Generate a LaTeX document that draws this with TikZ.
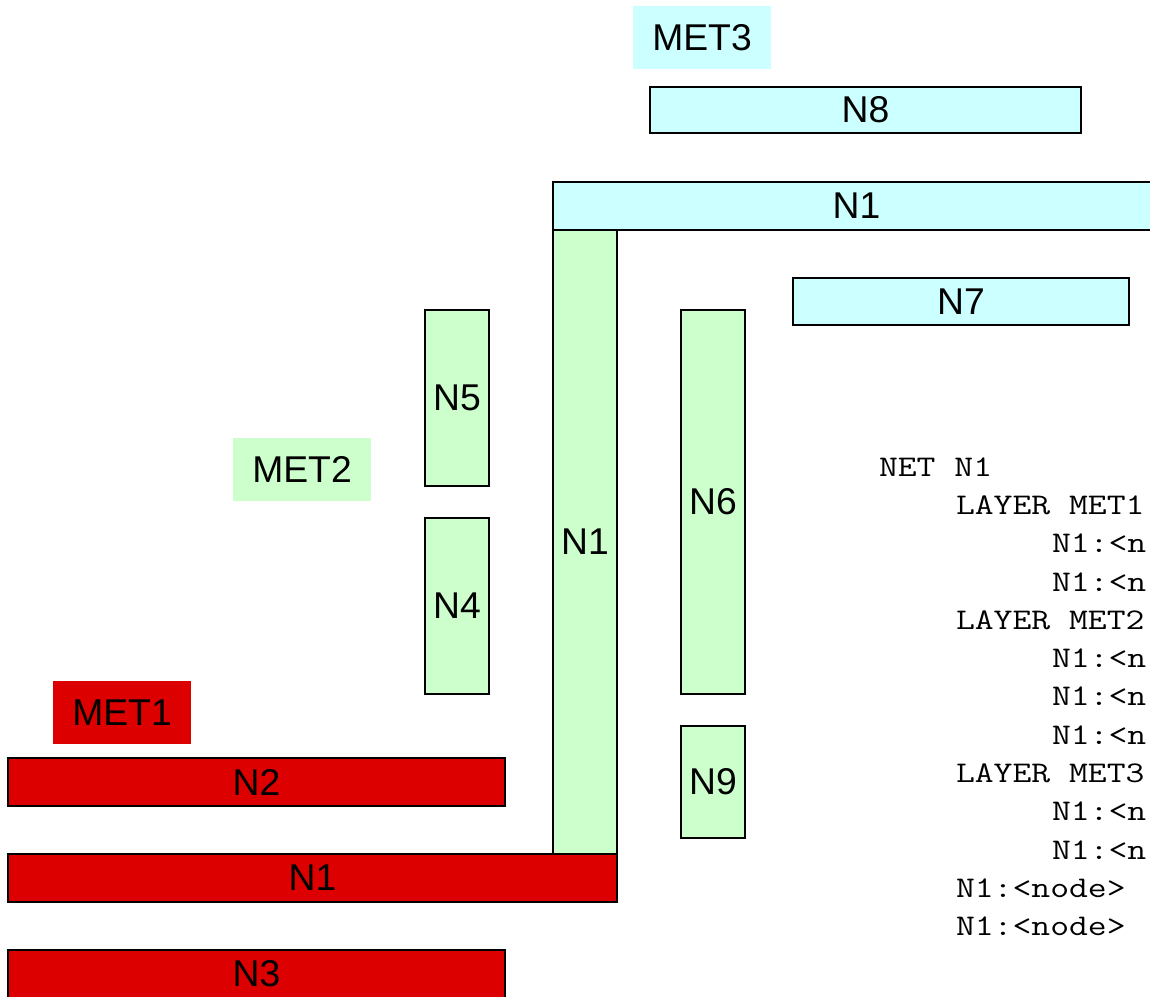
\documentclass[tikz,border=0pt]{standalone}
\usepackage{fontspec}
\setmainfont{Liberation Sans}
\definecolor{metA}{HTML}{DD0000}
\definecolor{metB}{HTML}{CCFFCC}
\definecolor{metC}{HTML}{CCFFFF}
\newcommand\wbox[7]{\node[#2, minimum width={#5-#3}, minimum height={#6-#4}] (#1) at ({(#3+#5)/2},{(#4+#6)/2}) {#7};}
\newcommand\mline[4]{\node[mono] (#1) at (#2,{476+#3*38.33}) {\scalebox{1.22}[1]{#4}};}
\tikzset{
  wire/.style={draw=black, line width=2pt, rectangle, inner sep=0pt, outer sep=0pt,
    font=\fontsize{37.3}{40}\selectfont},
  lbl/.style={rectangle, inner sep=0pt, outer sep=0pt, font=\fontsize{37.3}{40}\selectfont},
  mono/.style={anchor=base west, inner sep=0pt, outer sep=0pt, font=\fontsize{30}{34}\selectfont\ttfamily}
}
\begin{document}
\begin{tikzpicture}[x=1pt,y=-1pt]
\useasboundingbox (0,0) rectangle (1150,996);
\fill[white] (0,0) rectangle (1150,996);
\clip (0,0) rectangle (1150,996);
% labels
\wbox{met3}{lbl, fill=metC}{633}{6}{771}{69}{MET3}
\wbox{met2}{lbl, fill=metB}{233}{438}{371}{501}{MET2}
\wbox{met1}{lbl, fill=metA}{53}{681}{191}{744}{MET1}
% MET3 wires
\wbox{n8}{wire, fill=metC}{650}{87}{1081}{133}{N8}
\wbox{n1c}{wire, fill=metC}{553}{182}{1160}{230}{N1}
\wbox{n7}{wire, fill=metC}{793}{278}{1129}{325}{N7}
% MET2 wires
\wbox{n1g}{wire, fill=metB}{553}{230}{617}{854}{N1}
\wbox{n5}{wire, fill=metB}{425}{310}{489}{486}{N5}
\wbox{n4}{wire, fill=metB}{425}{518}{489}{694}{N4}
\wbox{n6}{wire, fill=metB}{681}{310}{745}{694}{N6}
\wbox{n9}{wire, fill=metB}{681}{726}{745}{838}{N9}
% MET1 wires
\wbox{n2}{wire, fill=metA}{8}{758}{505}{806}{N2}
\wbox{n1r}{wire, fill=metA}{8}{854}{617}{902}{N1}
\wbox{n3}{wire, fill=metA}{8}{950}{505}{998}{N3}
% netlist text
\mline{t0}{879}{0}{NET N1}
\mline{t1}{956}{1}{LAYER MET1}
\mline{t2}{1052}{2}{N1:<n}
\mline{t3}{1052}{3}{N1:<n}
\mline{t4}{956}{4}{LAYER MET2}
\mline{t5}{1052}{5}{N1:<n}
\mline{t6}{1052}{6}{N1:<n}
\mline{t7}{1052}{7}{N1:<n}
\mline{t8}{956}{8}{LAYER MET3}
\mline{t9}{1052}{9}{N1:<n}
\mline{t10}{1052}{10}{N1:<n}
\mline{t11}{956}{11}{N1:<node>}
\mline{t12}{956}{12}{N1:<node>}
\end{tikzpicture}
\end{document}
